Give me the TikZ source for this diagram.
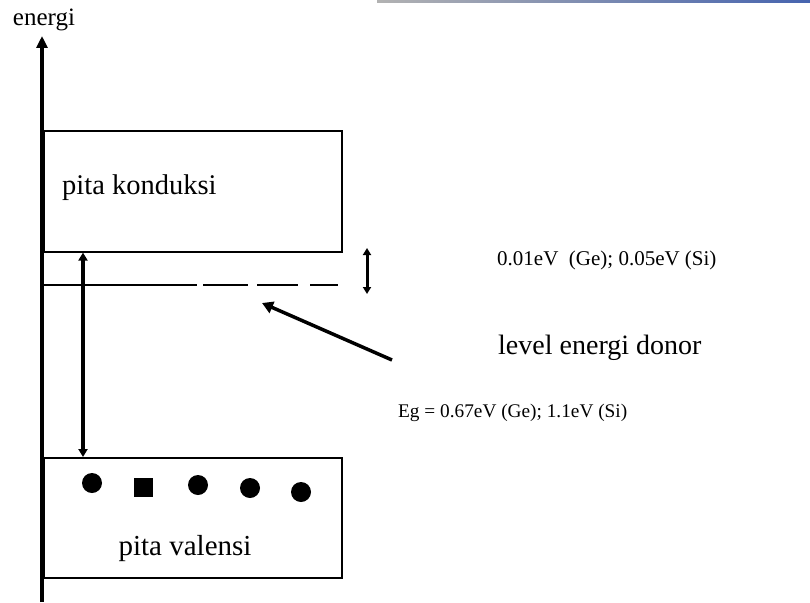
\documentclass[tikz,border=0pt]{standalone}
\usepackage{fontspec}
\setmainfont{Liberation Serif}
\usetikzlibrary{arrows.meta}
\begin{document}
\begin{tikzpicture}[x=1pt,y=-1pt,
  band/.style={draw, line width=1.6pt, minimum width=298pt, minimum height=121pt, inner sep=0pt, anchor=north west},
  lbl/.style={inner sep=0pt, anchor=west},
  dbl/.style={line width=3.2pt, {Triangle[length=8pt,width=9pt]}-{Triangle[length=8pt,width=9pt]}},
  electron/.style={fill=black, circle, inner sep=0pt, minimum size=20pt},
  levelline/.style={line width=1.6pt},
]
\useasboundingbox (0,0) rectangle (810,602);
\shade[left color=gray!60, right color={rgb,255:red,70;green,100;blue,175}] (377,0) rectangle (810,2.5);

% axis
\coordinate (axbot) at (42,602);
\coordinate (axtop) at (42,36);
\draw[line width=4pt, -{Triangle[length=12pt,width=11pt]}] (axbot) -- (axtop);
\node[inner sep=0pt, font=\fontsize{25}{28}\selectfont] (en) at (44,20) {energi};

% bands
\node[band] (cb) at (43,130) {};
\node[band, minimum height=120pt] (vb) at (43,457) {};
\node[lbl, font=\fontsize{28.5}{32}\selectfont] (pk) at (62,188) {pita konduksi};
\node[inner sep=0pt, font=\fontsize{29}{32}\selectfont] (pv) at (185,549) {pita valensi};

% donor level
\draw[levelline] (43,285) -- (197,285);
\draw[levelline] (203,285) -- (248,285);
\draw[levelline] (257,285) -- (298,285);
\draw[levelline] (310,285) -- (338,285);

% small gap arrow
\coordinate (ga) at (367,248);
\coordinate (gb) at (367,294);
\draw[line width=3pt, {Triangle[length=7pt,width=8pt]}-{Triangle[length=7pt,width=8pt]}] (ga) -- (gb);

% Eg arrow
\coordinate (eg) at (83,0);
\draw[dbl] (cb.south -| eg) -- (vb.north -| eg);

% donor pointer
\coordinate (dtail) at (392,360);
\coordinate (dtip) at (262,303);
\draw[line width=3.5pt, -{Triangle[length=11pt,width=12pt]}] (dtail) -- (dtip);

% electrons
\node[electron] (e1) at (92,483) {};
\node[fill=black, rectangle, inner sep=0pt, minimum size=19pt] (e2) at (143,487) {};
\node[electron] (e3) at (198,485) {};
\node[electron] (e4) at (250,488) {};
\node[electron] (e5) at (301,492) {};

% labels
\node[lbl, font=\fontsize{21}{25}\selectfont] (t1) at (497,260) {0.01eV\ \ (Ge); 0.05eV (Si)};
\node[lbl, font=\fontsize{28}{32}\selectfont] (t2) at (498,348) {level energi donor};
\node[lbl, font=\fontsize{19.3}{24}\selectfont] (t3) at (398,413) {Eg = 0.67eV (Ge); 1.1eV (Si)};
\end{tikzpicture}
\end{document}
